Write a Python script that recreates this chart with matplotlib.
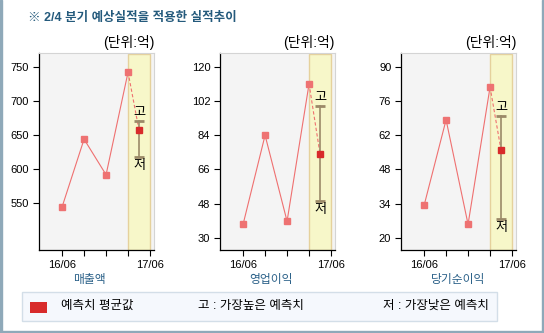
import matplotlib
matplotlib.use("Agg")
import matplotlib.pyplot as plt
from matplotlib.patches import Rectangle

plt.rcParams['font.family'] = ['Liberation Sans', 'Noto Sans CJK KR', 'DejaVu Sans']

# quarterly results (억) for 16/06 .. 17/03, then the 17/06 consensus
periods = ['16/06', '', '', '', '17/06']
metric_names = ['매출액', '영업이익', '당기순이익']
actual_sales = [545, 644, 592, 742]
actual_op = [37.2, 84, 38.8, 111]
actual_net = [33.3, 68.3, 25.6, 81.7]
forecast_avg = [657, 74.1, 55.9]
forecast_high = [670, 99.5, 70]
forecast_low = [618, 49.4, 27.8]
y_ticks = [[550, 600, 650, 700, 750],
           [30, 48, 66, 84, 102, 120],
           [20, 34, 48, 62, 76, 90]]
y_limits = [(482, 770), (23.7, 127.2), (15.1, 95.6)]

W, H = 544, 333
LINE = '#ef7070'
AVG = '#d82b2b'
BAR = '#9b8a68'
TITLE = '#245a7c'


def px(x, y, w, h):
    """pixel box (top-left origin) -> figure fraction rect"""
    return [x / W, 1 - (y + h) / H, w / W, h / H]


fig = plt.figure(figsize=(W / 100, H / 100), dpi=100)

# outer frame
frame_col = '#8fa9b9'
fig.patches.append(Rectangle((0, 0), 2 / W, 1, transform=fig.transFigure, color=frame_col))
fig.patches.append(Rectangle((1 - 2 / W, 0), 2 / W, 1, transform=fig.transFigure, color=frame_col))
fig.patches.append(Rectangle((0, 0), 1, 2 / H, transform=fig.transFigure, color=frame_col))

fig.text(28 / W, 1 - 18 / H, '※ 2/4 분기 예상실적을 적용한 실적추이', fontsize=9,
         fontweight='bold', color=TITLE, va='center', ha='left')

panel_left = [39, 220, 401]
label_center = [89, 271, 458]
actuals = [actual_sales, actual_op, actual_net]

for i in range(3):
    ax = fig.add_axes(px(panel_left[i], 53, 115, 197))
    ax.set_facecolor('#f4f4f4')
    ax.set_xlim(-1.05, 4.18)
    ax.set_ylim(*y_limits[i])

    lo, hi = y_limits[i]
    # forecast band
    ax.add_patch(Rectangle((3, lo), 1, (hi - lo) * 0.995, facecolor='#f7f7c9',
                           edgecolor='#e5d19c', lw=1, zorder=1))

    xs = list(range(len(actuals[i])))
    ax.plot(xs, actuals[i], color=LINE, lw=0.8, marker='s', ms=4.4,
            mfc='#ee7272', mec='#ee7272', zorder=3)
    ax.plot([3, 3.5], [actuals[i][-1], forecast_avg[i]], color=LINE, lw=0.8,
            ls=(0, (3, 2)), zorder=2)

    # high / low range of forecasts
    ax.plot([3.5, 3.5], [forecast_low[i], forecast_high[i]], color=BAR, lw=1.2, zorder=2)
    for v in (forecast_low[i], forecast_high[i]):
        ax.plot([3.27, 3.73], [v, v], color=BAR, lw=2, solid_capstyle='butt', zorder=2)
    ax.plot([3.5], [forecast_avg[i]], marker='s', ms=4.6, color=AVG, zorder=4)
    ax.annotate('고', (3.5, forecast_high[i]), xytext=(0, 1.5), textcoords='offset points',
                ha='center', va='bottom', fontsize=9.5)
    ax.annotate('저', (3.5, forecast_low[i]), xytext=(0, -2), textcoords='offset points',
                ha='center', va='top', fontsize=9.5)

    ax.set_xticks(range(5))
    ax.set_xticklabels(periods, fontsize=8)
    ax.set_yticks(y_ticks[i])
    ax.set_yticklabels([str(t) for t in y_ticks[i]], fontsize=8)
    ax.tick_params(length=4, width=0.8, color='black', pad=3)
    for side in ('top', 'right'):
        ax.spines[side].set_color('#d4d4d4')
    for side in ('left', 'bottom'):
        ax.spines[side].set_color('black')
        ax.spines[side].set_linewidth(0.9)

    fig.text((panel_left[i] + 115) / W, 1 - 43 / H, '(단위:억)', fontsize=10,
             ha='right', va='center')
    fig.text(label_center[i] / W, 1 - 280 / H, metric_names[i], fontsize=8.5,
             color='#2a6088', ha='center', va='center')

# key
fig.patches.append(Rectangle((22 / W, 1 - 321 / H), 475 / W, 29 / H, transform=fig.transFigure,
                             facecolor='#f5f8fd', edgecolor='#d3dee8', lw=1))
fig.patches.append(Rectangle((30 / W, 1 - 313 / H), 17 / W, 11 / H, transform=fig.transFigure,
                             facecolor=AVG, edgecolor='none'))
fig.text(61 / W, 1 - 306 / H, '예측치 평균값', fontsize=9, va='center')
fig.text(198 / W, 1 - 306 / H, '고 : 가장높은 예측치', fontsize=9, va='center')
fig.text(383 / W, 1 - 306 / H, '저 : 가장낮은 예측치', fontsize=9, va='center')

fig.savefig('out.png', dpi=100, facecolor='white')
